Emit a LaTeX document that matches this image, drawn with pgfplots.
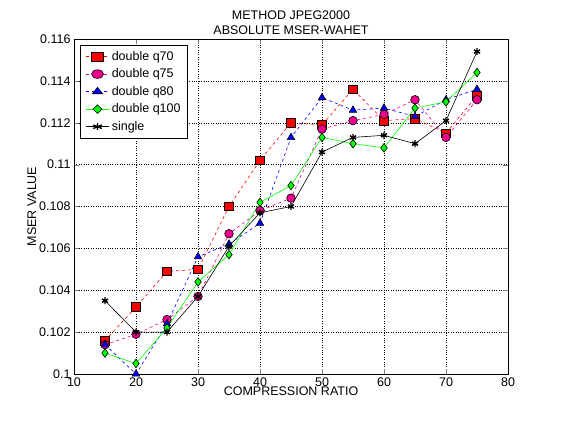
\documentclass[border=0pt]{standalone}
\usepackage{pgfplots}
\pgfplotsset{compat=1.18}
\usepackage{fontspec}
\setmainfont{Liberation Sans}
\begin{document}
\begin{tikzpicture}[x=1pt,y=1pt]
\path (0,0) rectangle (561,420);
\begin{axis}[
  at={(74pt,46pt)}, anchor=south west, scale only axis,
  width=434pt, height=335pt,
  xmin=10, xmax=80, ymin=0.1, ymax=0.116,
  xtick={10,20,...,80}, ytick={0.1,0.102,...,0.1161},
  tick align=inside, ticks=both, xtick pos=both, ytick pos=both,
  major tick length=5pt,
  grid=major, grid style={black, dotted},
  axis line style={black},
  font=\fontsize{12.5}{14.5}\selectfont,
  /pgf/number format/assume math mode=true,
  yticklabel style={/pgf/number format/fixed,/pgf/number format/precision=3},
  scaled y ticks=false,
  xlabel={COMPRESSION RATIO}, ylabel={MSER VALUE},
  xlabel style={yshift=6pt}, ylabel style={yshift=-4pt},
  title={METHOD JPEG2000\\ABSOLUTE MSER-WAHET}, title style={align=center, yshift=-5pt},
  legend style={at={(0.014,0.982)}, anchor=north west, draw=black, font=\fontsize{12.5}{14.5}\selectfont, row sep=3pt, inner xsep=5pt, inner ysep=4pt},
  legend image post style={xscale=1.4},
  legend cell align=left,
  every axis plot/.append style={line width=0.6pt},
  mark size=4.3pt,
]
\addplot[red, dashed, mark=square*, mark options={solid, fill=red, draw=black}] coordinates {
(15,0.1016)(20,0.1032)(25,0.1049)(30,0.1050)(35,0.1080)(40,0.1102)(45,0.1120)(50,0.1119)(55,0.1136)(60,0.1121)(65,0.1122)(70,0.1115)(75,0.1133)};
\addlegendentry{double q70}
\addplot[magenta, dashed, mark=*, mark options={solid, fill=magenta, draw=black}] coordinates {
(15,0.1014)(20,0.1019)(25,0.1026)(30,0.1037)(35,0.1067)(40,0.1078)(45,0.1084)(50,0.1117)(55,0.1121)(60,0.1124)(65,0.1131)(70,0.1113)(75,0.1131)};
\addlegendentry{double q75}
\addplot[blue, dashed, mark=triangle*, mark options={solid, fill=blue, draw=black}] coordinates {
(15,0.1014)(20,0.1000)(25,0.1024)(30,0.1056)(35,0.1062)(40,0.1072)(45,0.1113)(50,0.1132)(55,0.1126)(60,0.1127)(65,0.1123)(70,0.1131)(75,0.1136)};
\addlegendentry{double q80}
\addplot[green, mark=diamond*, mark options={solid, fill=green, draw=black}] coordinates {
(15,0.1010)(20,0.1005)(25,0.1022)(30,0.1044)(35,0.1057)(40,0.1082)(45,0.1090)(50,0.1113)(55,0.1110)(60,0.1108)(65,0.1127)(70,0.1130)(75,0.1144)};
\addlegendentry{double q100}
\addplot[black, mark=asterisk, mark size=3.5pt, mark options={solid, line width=1.4pt}] coordinates {
(15,0.1035)(20,0.1020)(25,0.1020)(30,0.1037)(35,0.1061)(40,0.1077)(45,0.1080)(50,0.1106)(55,0.1113)(60,0.1114)(65,0.1110)(70,0.1121)(75,0.1154)};
\addlegendentry{single}
\end{axis}
\end{tikzpicture}
\end{document}
